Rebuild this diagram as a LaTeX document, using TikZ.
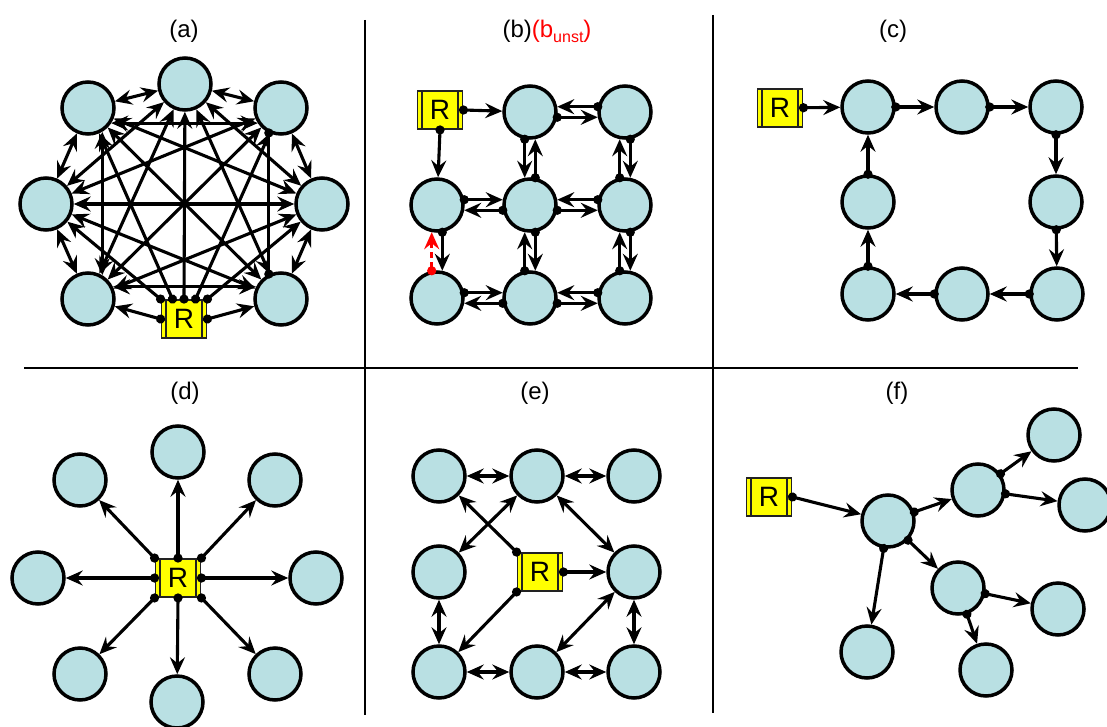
\documentclass[tikz,border=0pt]{standalone}
\usepackage{fontspec}
\setmainfont{Liberation Sans}
\usetikzlibrary{arrows.meta,positioning}
\definecolor{nblue}{HTML}{B9E0E3}
\definecolor{ryel}{HTML}{FFFF00}
\definecolor{rline}{HTML}{222222}
\definecolor{redlink}{HTML}{FF0000}

\begin{document}
\begin{tikzpicture}[
  x=1pt,y=-1pt,
  nd/.style={circle,draw=black,line width=3.5pt,fill=nblue,minimum size=52pt,inner sep=0pt},
  rb/.style={draw=rline,line width=1.9pt,fill=ryel,minimum width=45pt,minimum height=38pt,
             inner sep=0pt,font=\fontsize{28}{28}\selectfont,
             path picture={\draw[rline,line width=1.4pt]
               ([xshift=4.5pt]path picture bounding box.north west) -- ([xshift=4.5pt]path picture bounding box.south west)
               ([xshift=-4.5pt]path picture bounding box.north east) -- ([xshift=-4.5pt]path picture bounding box.south east);}},
  lbl/.style={anchor=base,font=\fontsize{24}{24}\selectfont},
  lk/.style={line width=3.1pt,{Circle[length=9pt]}-{Stealth[length=17pt,width=15pt,inset=6pt]},
             shorten <=-4.5pt},
  bi/.style={line width=3.1pt,{Stealth[length=17pt,width=15pt,inset=6pt]}-{Stealth[length=17pt,width=15pt,inset=6pt]}},
  dd/.style={line width=3.1pt,{Circle[length=9pt]}-{Circle[length=9pt]},shorten <=-4.5pt,shorten >=-4.5pt}
]
\useasboundingbox (0,0) rectangle (1107,727);

% panel frame
\draw[line width=2.2pt] (365,20) -- (365,715);
\draw[line width=2.2pt] (713,15) -- (713,713);
\draw[line width=2.2pt] (24,368) -- (1078,368);

% (a) full mesh
\node[lbl] (la) at (184,38) {(a)};
\node[nd] (a1) at (185,84) {};
\node[nd] (a2) at (88,108) {};
\node[nd] (a3) at (281,108) {};
\node[nd] (a4) at (46,204) {};
\node[nd] (a5) at (322,204) {};
\node[nd] (a6) at (88,299) {};
\node[nd] (a7) at (281,299) {};
\node[rb] (Ra) at (184,319) {R};
\foreach \p/\q in {a1/a2, a1/a3, a2/a4, a3/a5, a4/a6, a5/a7, a1/a4, a1/a5, a1/a6, a1/a7,
                   a2/a5, a2/a7, a3/a4, a3/a6, a4/a5, a4/a7, a5/a6}
  {\draw[bi] (\p) -- (\q);}
\draw[bi] (a2.-33) -- (a3.213);
\draw[bi] (a2.-59) -- (a6.59);
\draw[bi] (a6.26) -- (a7.154);
\draw[dd] (a3.244) -- (a7.116);
\foreach \s/\t in {north west/a4, 120/a2, north/a1, 60/a3, north east/a5, west/a6, east/a7}
  {\draw[lk] (Ra.\s) -- (\t);}

% (b) grid, both directions
\node[lbl] (lb) at (547,38) {(b)\textcolor{redlink}{(b\raisebox{-5pt}{\fontsize{16}{16}\selectfont unst})}};
\node[rb] (Rb) at (440,110) {R};
\node[nd] (b12) at (530,112) {};
\node[nd] (b13) at (625,112) {};
\node[nd] (b21) at (437,205) {};
\node[nd] (b22) at (530,205) {};
\node[nd] (b23) at (625,205) {};
\node[nd] (b31) at (437,298) {};
\node[nd] (b32) at (530,298) {};
\node[nd] (b33) at (625,298) {};
\draw[lk] (Rb.east) -- (b12);
\draw[lk] (Rb.south) -- (b21);
\foreach \p/\q in {b21/b22, b31/b32}
  {\draw[lk] (\p.11) -- (\q.169); \draw[lk] (\q.191) -- (\p.-11);}
\foreach \p/\q in {b12/b13, b22/b23, b32/b33}
  {\draw[lk] (\q.169) -- (\p.11); \draw[lk] (\p.-11) -- (\q.191);}
\foreach \p/\q in {b13/b23, b22/b32, b23/b33}
  {\draw[lk] (\q.101) -- (\p.259); \draw[lk] (\p.281) -- (\q.79);}
\draw[lk] (b12.259) -- (b22.101);
\draw[lk] (b22.79) -- (b12.281);
\draw[lk] (b21.281) -- (b31.79);
\draw[lk,redlink,dash pattern=on 6pt off 4pt] (b31.101) -- (b21.259);

% (c) ring
\node[lbl] (lc) at (893,38) {(c)};
\node[rb] (Rc) at (780,108) {R};
\node[nd] (c1) at (868,107) {};
\node[nd] (c2) at (962,107) {};
\node[nd] (c3) at (1056,107) {};
\node[nd] (c4) at (868,202) {};
\node[nd] (c5) at (1056,202) {};
\node[nd] (c6) at (868,294) {};
\node[nd] (c7) at (962,294) {};
\node[nd] (c8) at (1057,294) {};
\foreach \p/\q in {Rc/c1, c1/c2, c2/c3, c3/c5, c5/c8, c8/c7, c7/c6, c6/c4, c4/c1}
  {\draw[lk] (\p) -- (\q);}

% (d) star
\node[lbl] (ld) at (185,399) {(d)};
\node[rb] (Rd) at (178,578) {R};
\node[nd] (d1) at (178,452) {};
\node[nd] (d2) at (275,480) {};
\node[nd] (d3) at (316,578) {};
\node[nd] (d4) at (275,674) {};
\node[nd] (d5) at (177,702) {};
\node[nd] (d6) at (80,674) {};
\node[nd] (d7) at (38,578) {};
\node[nd] (d8) at (80,480) {};
\foreach \s/\t in {north/d1, north east/d2, east/d3, south east/d4, south/d5,
                   south west/d6, west/d7, north west/d8}
  {\draw[lk] (Rd.\s) -- (\t);}

% (e) partial mesh
\node[lbl] (le) at (535,399) {(e)};
\node[nd] (e1) at (439,476) {};
\node[nd] (e2) at (537,476) {};
\node[nd] (e3) at (634,476) {};
\node[nd] (e4) at (439,572) {};
\node[nd] (e5) at (634,572) {};
\node[nd] (e6) at (439,672) {};
\node[nd] (e7) at (537,672) {};
\node[nd] (e8) at (634,672) {};
\node[rb] (Re) at (540,572) {R};
\foreach \p/\q in {e1/e2, e2/e3, e2/e4, e2/e5, e4/e6, e5/e8, e6/e7, e7/e8, e5/e7}
  {\draw[bi] (\p) -- (\q);}
\draw[lk] (Re.east) -- (e5);
\draw[lk] (Re.north west) -- (e1);
\draw[lk] (Re.south west) -- (e6);

% (f) tree
\node[lbl] (lf) at (897,399) {(f)};
\node[rb] (Rf) at (769,497) {R};
\node[nd] (f1) at (888,521) {};
\node[nd] (f2) at (978,490) {};
\node[nd] (f3) at (1054,435) {};
\node[nd] (f4) at (1085,505) {};
\node[nd] (f5) at (958,588) {};
\node[nd] (f6) at (1058,609) {};
\node[nd] (f7) at (986,670) {};
\node[nd] (f8) at (867,652) {};
\draw[lk] (Rf.east) -- (f1);
\foreach \p/\q in {f1/f2, f2/f3, f2/f4, f1/f5, f1/f8, f5/f6, f5/f7}
  {\draw[lk] (\p) -- (\q);}
\end{tikzpicture}
\end{document}
